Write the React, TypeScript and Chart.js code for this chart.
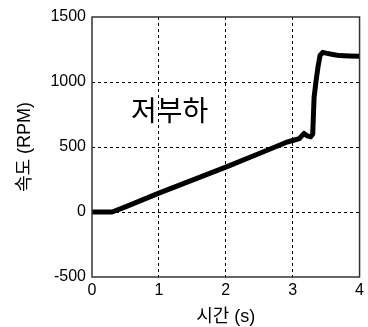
import React, { useEffect, useRef } from "react";
import { Chart, registerables } from "chart.js";

Chart.register(...registerables);

const timeS = [0, 0.3, 0.5, 1.0, 1.5, 2.0, 2.5, 2.9, 3.0, 3.1, 3.17, 3.22, 3.27, 3.3, 3.32, 3.35, 3.38, 3.41, 3.45, 3.5, 3.6, 3.7, 3.85, 4.0];
const speedRpm = [0, 0, 40, 145, 245, 345, 450, 535, 550, 565, 605, 585, 578, 600, 880, 1010, 1120, 1205, 1228, 1222, 1212, 1203, 1200, 1198];

const xTicks = [0, 1, 2, 3, 4];
const yTicks = [-500, 0, 500, 1000, 1500];

const xTitle = "시간 (s)";
const yTitle = "속도 (RPM)";
const annotationText = "저부하";
const annotationAt = { x: 1.16, y: 780 };

const tickFont = { family: "'Liberation Sans', Arial, sans-serif", size: 16 };
const titleFont = { family: "'Liberation Sans', 'Noto Sans CJK KR', sans-serif", size: 18 };

export default function App() {
  const ref = useRef<HTMLCanvasElement | null>(null);

  useEffect(() => {
    const canvas = ref.current;
    if (!canvas) return;

    const boxPlugin = {
      id: "boxAndNote",
      afterDraw(chart: any) {
        const { ctx, chartArea, scales } = chart;
        ctx.save();
        ctx.strokeStyle = "#333333";
        ctx.lineWidth = 1.5;
        ctx.setLineDash([]);
        ctx.strokeRect(chartArea.left, chartArea.top, chartArea.right - chartArea.left, chartArea.bottom - chartArea.top);
        ctx.fillStyle = "#000000";
        ctx.font = "28px 'Noto Sans CJK KR', sans-serif";
        ctx.textAlign = "center";
        ctx.textBaseline = "middle";
        ctx.fillText(annotationText, scales.x.getPixelForValue(annotationAt.x), scales.y.getPixelForValue(annotationAt.y));
        ctx.restore();
      },
    };

    const gridColor = (c: any) => {
      const n = c.scale.ticks.length;
      return c.index === 0 || c.index === n - 1 ? "rgba(0,0,0,0)" : "#000000";
    };

    const chart = new Chart(canvas, {
      type: "line",
      data: {
        datasets: [
          {
            data: timeS.map((t, i) => ({ x: t, y: speedRpm[i] })),
            borderColor: "#000000",
            borderWidth: 5,
            pointRadius: 0,
            tension: 0,
            borderJoinStyle: "round",
            borderCapStyle: "round",
          },
        ],
      },
      options: {
        animation: false,
        responsive: false,
        layout: { padding: { top: 17, right: 5, left: 0, bottom: 0 } },
        plugins: { legend: { display: false }, tooltip: { enabled: false } },
        scales: {
          x: {
            type: "linear",
            min: 0,
            max: 4,
            afterBuildTicks: (s: any) => {
              s.ticks = xTicks.map((v) => ({ value: v }));
            },
            afterFit: (s: any) => {
              s.height = 50;
            },
            ticks: { color: "#000", font: tickFont, padding: 4, maxRotation: 0, callback: (v: any) => String(v) },
            grid: { color: gridColor, lineWidth: 1, drawTicks: false },
            border: { display: false, dash: [3, 3] },
            title: { display: true, text: xTitle, color: "#000", font: titleFont, padding: { top: 0, bottom: -1 } },
          },
          y: {
            type: "linear",
            min: -500,
            max: 1500,
            afterBuildTicks: (s: any) => {
              s.ticks = yTicks.map((v) => ({ value: v }));
            },
            afterFit: (s: any) => {
              s.width = 92;
            },
            ticks: { color: "#000", font: tickFont, padding: 6, callback: (v: any) => String(v) },
            grid: { color: gridColor, lineWidth: 1, drawTicks: false },
            border: { display: false, dash: [3, 3] },
            title: { display: true, text: yTitle, color: "#000", font: titleFont, padding: { top: 14, bottom: 0 } },
          },
        },
      },
      plugins: [boxPlugin],
    } as any);

    return () => chart.destroy();
  }, []);

  return (
    <div style={{ position: "absolute", left: 0, top: 0, width: 368, height: 327, background: "#fff" }}>
      <canvas ref={ref} width={368} height={327} style={{ display: "block" }} />
    </div>
  );
}
